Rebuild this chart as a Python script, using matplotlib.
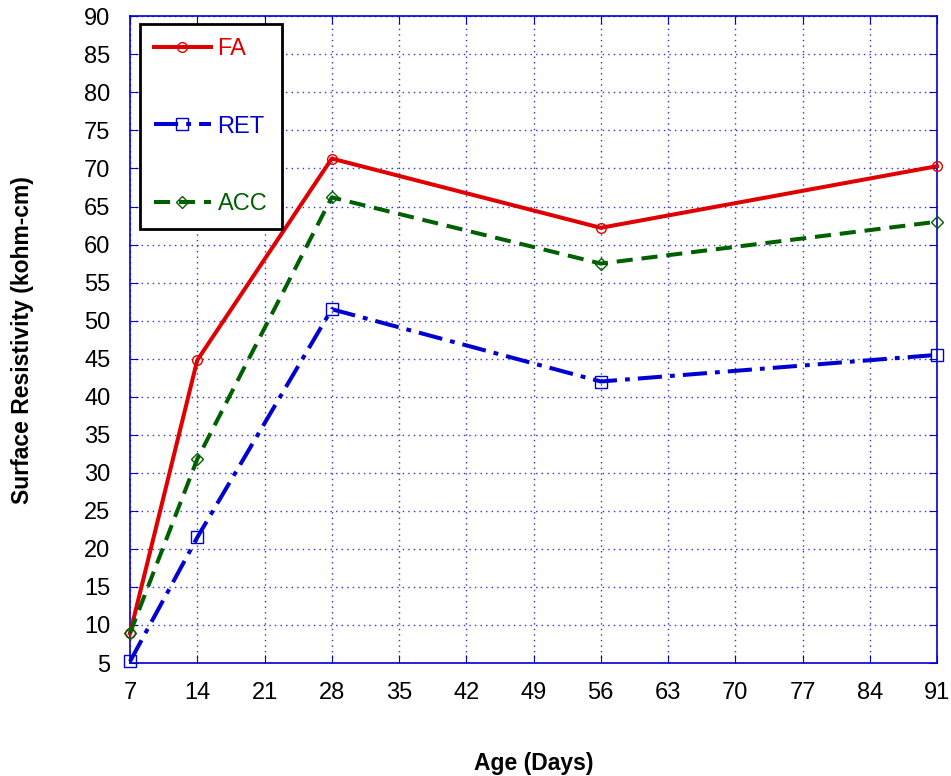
import matplotlib.pyplot as plt

# Data
age = [7, 14, 28, 56, 91]
fa = [8.9, 44.8, 71.3, 62.2, 70.3]
ret = [5.2, 21.5, 51.5, 42.0, 45.5]
acc = [8.9, 31.8, 66.2, 57.5, 63.0]

x_ticks = [7, 14, 21, 28, 35, 42, 49, 56, 63, 70, 77, 84, 91]
y_ticks = list(range(5, 95, 5))

plt.rcParams['font.family'] = ['Liberation Sans', 'DejaVu Sans']

fig = plt.figure(figsize=(9.51, 7.76), dpi=100)
ax = fig.add_axes([0.1367, 0.1456, 0.8486, 0.8334])

ax.plot(age, fa, color='#e00000', lw=2.9, marker='o', ms=7, mfc='none',
        mec='#e00000', mew=1, label='FA', clip_on=False, zorder=3)
ax.plot(age, ret, color='#0000d0', lw=2.9, ls=(0, (6, 2, 1.2, 2)), marker='s', ms=8,
        mfc='none', mec='#0000d0', mew=1, label='RET', clip_on=False, zorder=3)
ax.plot(age, acc, color='#006000', lw=2.9, ls=(0, (4, 2.2)), marker='D', ms=6,
        mfc='none', mec='#006000', mew=1, label='ACC', clip_on=False, zorder=3)

ax.set_xlim(7, 91)
ax.set_ylim(5, 90)
ax.set_xticks(x_ticks)
ax.set_yticks(y_ticks)
ax.grid(True, color='#3030e0', ls=(0, (1, 3)), lw=1)
for s in ax.spines.values():
    s.set_color('#0000d0')
    s.set_linewidth(1.2)
ax.tick_params(direction='in', length=6, color='#0000d0', labelsize=17,
               top=True, right=True, pad=14)

ax.set_xlabel('Age (Days)', fontsize=16.5, fontweight='bold', labelpad=34)
ax.set_ylabel('Surface Resistivity (kohm-cm)', fontsize=16.5, fontweight='bold', labelpad=36)

leg = ax.legend(loc='upper left', bbox_to_anchor=(0.012, 0.988), fontsize=17,
                labelcolor='linecolor', labelspacing=2.35, handlelength=2.4,
                handletextpad=0.3, borderpad=0.6, borderaxespad=0,
                fancybox=False, framealpha=1, edgecolor='black')
leg.get_frame().set_linewidth(2)

fig.savefig('out.png', dpi=100)
